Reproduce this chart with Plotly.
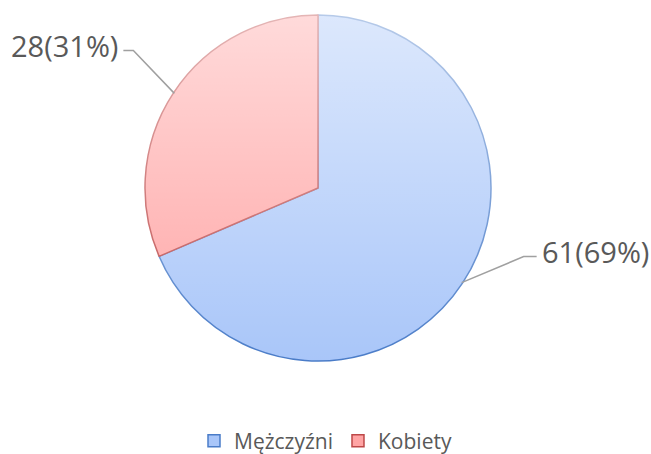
import math
import plotly.graph_objects as go

labels = ["Mężczyźni", "Kobiety"]
values = [61, 28]
fill_colors = ["#a9c6f9", "#ffa4a4"]
edge_colors = ["#4a7cc8", "#bd4848"]

W, H = 651, 454
cx, cy, r = 318, 188, 172
# leader line elbow offsets (px) and horizontal run per slice
elbow = [(62, -26), (-41, -43)]
run = [13, -10]

def X(px):
    return px / W

def Y(py):
    return 1 - py / H

fig = go.Figure()
fig.add_trace(go.Pie(
    labels=labels, values=values, sort=False, direction="clockwise", rotation=0,
    marker=dict(colors=fill_colors, line=dict(color=edge_colors, width=1.5)),
    textinfo="none", hole=0,
    domain=dict(x=[X(cx - r - 1), X(cx + r + 1)], y=[Y(cy + r + 1), Y(cy - r - 1)]),
))

total = sum(values)
cum = 0
shapes = []
annotations = []
for i, v in enumerate(values):
    theta = 2 * math.pi * (cum + v / 2) / total
    cum += v
    ex, ey = cx + r * math.sin(theta), cy - r * math.cos(theta)
    bx, by = ex + elbow[i][0], ey + elbow[i][1]
    hx = bx + run[i]
    shapes.append(dict(type="path", xref="paper", yref="paper",
                       path=f"M {X(ex)} {Y(ey)} L {X(bx)} {Y(by)} L {X(hx)} {Y(by)}",
                       line=dict(color="#a0a0a0", width=1.5)))
    right = run[i] > 0
    annotations.append(dict(
        x=X(hx + (3 if right else -3)), y=Y(by - 5), xref="paper", yref="paper",
        text=f"{v}({round(100 * v / total)}%)", showarrow=False,
        xanchor="left" if right else "right", yanchor="middle",
        font=dict(family="Open Sans", size=29, color="#595959")))

svg = ("data:image/svg+xml;utf8,"
       "<svg xmlns='http://www.w3.org/2000/svg' width='100' height='100' preserveAspectRatio='none'>"
       "<defs><linearGradient id='g' x1='0' y1='0' x2='0' y2='1'>"
       "<stop offset='0' stop-color='white' stop-opacity='0.6'/>"
       "<stop offset='1' stop-color='white' stop-opacity='0'/>"
       "</linearGradient></defs><rect width='100' height='100' fill='url(%23g)'/></svg>")

fig.update_layout(
    width=W, height=H, margin=dict(l=0, r=0, t=0, b=0, autoexpand=False),
    paper_bgcolor="white", plot_bgcolor="white",
    shapes=shapes, annotations=annotations,
    images=[dict(source=svg, xref="paper", yref="paper",
                 x=X(cx - r - 2), y=Y(cy - r - 2), sizex=(2 * r + 4) / W, sizey=(2 * r + 4) / H,
                 xanchor="left", yanchor="top", sizing="stretch", layer="above")],
    legend=dict(orientation="h", x=0.5, xanchor="center", y=Y(441), yanchor="middle",
                font=dict(family="Open Sans", size=21, color="#595959"),
                itemwidth=30, traceorder="normal"),
)
fig.write_html("out.html", config={"displayModeBar": False},
               post_script="document.body.style.margin='0';document.body.style.overflow='hidden';")
